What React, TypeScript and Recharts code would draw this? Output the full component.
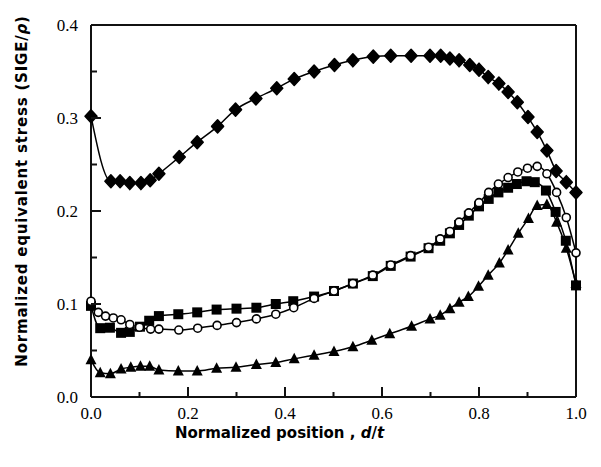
import React from 'react';
import { ComposedChart, Line, XAxis, YAxis } from 'recharts';

// Normalized position d/t and normalized equivalent stress per series
const diamondX = [0.0, 0.041, 0.06, 0.08, 0.103, 0.122, 0.14, 0.182, 0.219, 0.261, 0.298, 0.34, 0.383, 0.419, 0.46, 0.502, 0.54, 0.582, 0.618, 0.66, 0.699, 0.721, 0.74, 0.759, 0.781, 0.8, 0.819, 0.841, 0.86, 0.879, 0.901, 0.92, 0.94, 0.959, 0.98, 1.0];
const diamondY = [0.302, 0.232, 0.232, 0.23, 0.23, 0.233, 0.24, 0.258, 0.274, 0.291, 0.309, 0.321, 0.332, 0.342, 0.35, 0.357, 0.362, 0.366, 0.367, 0.367, 0.367, 0.367, 0.364, 0.362, 0.357, 0.352, 0.344, 0.337, 0.328, 0.317, 0.301, 0.285, 0.265, 0.243, 0.231, 0.22];

const circleX = [0.0, 0.015, 0.03, 0.046, 0.062, 0.08, 0.1, 0.123, 0.14, 0.181, 0.22, 0.26, 0.3, 0.341, 0.381, 0.418, 0.46, 0.501, 0.54, 0.581, 0.618, 0.659, 0.696, 0.72, 0.74, 0.759, 0.779, 0.8, 0.82, 0.84, 0.86, 0.88, 0.9, 0.92, 0.94, 0.96, 0.98, 1.0];
const circleY = [0.103, 0.091, 0.087, 0.085, 0.083, 0.078, 0.075, 0.073, 0.073, 0.072, 0.074, 0.077, 0.08, 0.084, 0.089, 0.096, 0.106, 0.114, 0.122, 0.131, 0.142, 0.152, 0.161, 0.17, 0.178, 0.188, 0.198, 0.209, 0.22, 0.229, 0.236, 0.242, 0.246, 0.248, 0.24, 0.22, 0.193, 0.155];

const squareX = [0.0, 0.019, 0.039, 0.062, 0.08, 0.101, 0.12, 0.14, 0.18, 0.219, 0.259, 0.3, 0.341, 0.381, 0.417, 0.46, 0.501, 0.54, 0.581, 0.618, 0.659, 0.696, 0.72, 0.74, 0.759, 0.779, 0.8, 0.82, 0.84, 0.86, 0.878, 0.898, 0.915, 0.938, 0.958, 0.979, 1.0];
const squareY = [0.098, 0.074, 0.0745, 0.069, 0.07, 0.0756, 0.082, 0.087, 0.089, 0.091, 0.094, 0.095, 0.096, 0.1, 0.103, 0.108, 0.114, 0.122, 0.13, 0.141, 0.151, 0.16, 0.168, 0.176, 0.185, 0.195, 0.205, 0.213, 0.22, 0.225, 0.229, 0.232, 0.231, 0.222, 0.199, 0.168, 0.12];

const triangleX = [0.0, 0.019, 0.04, 0.062, 0.082, 0.102, 0.121, 0.14, 0.18, 0.219, 0.259, 0.299, 0.341, 0.381, 0.419, 0.46, 0.501, 0.54, 0.579, 0.616, 0.661, 0.699, 0.72, 0.74, 0.759, 0.778, 0.799, 0.819, 0.842, 0.86, 0.881, 0.902, 0.92, 0.94, 0.96, 0.98, 1.0];
const triangleY = [0.04, 0.026, 0.025, 0.03, 0.032, 0.033, 0.033, 0.029, 0.028, 0.028, 0.031, 0.032, 0.035, 0.037, 0.041, 0.045, 0.049, 0.054, 0.061, 0.068, 0.076, 0.084, 0.088, 0.095, 0.102, 0.108, 0.119, 0.131, 0.144, 0.158, 0.176, 0.192, 0.206, 0.207, 0.188, 0.16, 0.122];

const xTicks = [0, 0.1, 0.2, 0.3, 0.4, 0.5, 0.6, 0.7, 0.8, 0.9, 1.0];
const yTicks = [0, 0.05, 0.1, 0.15, 0.2, 0.25, 0.3, 0.35, 0.4];

const zip = (xs: number[], ys: number[]) => xs.map((x, i) => ({ x, y: ys[i] }));
const diamondData = zip(diamondX, diamondY);
const circleData = zip(circleX, circleY);
const squareData = zip(squareX, squareY);
const triangleData = zip(triangleX, triangleY);

const SERIF = 'Liberation Serif';
const SANS = 'DejaVu Sans';
const FRAME = '#111111';

const isMajor = (v: number, step: number) => Math.abs(Math.round(v / step) * step - v) < 1e-6;

// default tickSize (6) + tickMargin (2) separate the tick anchor from the axis line
const OFF = 8;

const XTick = (props: any) => {
  const { x, y, payload } = props;
  const v = payload.value;
  const major = isMajor(v, 0.2);
  const ay = y - OFF;
  const len = major ? 10 : 5;
  return (
    <g>
      <path d={`M${x},${ay}L${x},${ay - len}`} stroke={FRAME} strokeWidth={2} fill="none" />
      {major && (
        <text x={x} y={ay + 22} textAnchor="middle" fontFamily={SERIF} fontSize={17} fill="#000">
          {v.toFixed(1)}
        </text>
      )}
    </g>
  );
};

const YTick = (props: any) => {
  const { x, y, payload } = props;
  const v = payload.value;
  const major = isMajor(v, 0.1);
  const ax = x + OFF;
  const len = major ? 10 : 6;
  return (
    <g>
      <path d={`M${ax},${y}L${ax + len},${y}`} stroke={FRAME} strokeWidth={2} fill="none" />
      {major && (
        <text x={ax - 13} y={y + 6} textAnchor="end" fontFamily={SERIF} fontSize={17} fill="#000">
          {v.toFixed(1)}
        </text>
      )}
    </g>
  );
};

const RTick = (props: any) => {
  const { x, y, payload } = props;
  const v = payload.value;
  const major = isMajor(v, 0.1);
  const ax = x - OFF;
  const len = major ? 10 : 6;
  return <path d={`M${ax},${y}L${ax - len},${y}`} stroke={FRAME} strokeWidth={2} fill="none" />;
};

const diamondDot = (p: any) => {
  const { cx, cy, index } = p;
  return <path key={`d${index}`} d={`M${cx},${cy - 6.5} L${cx + 6},${cy} L${cx},${cy + 6.5} L${cx - 6},${cy} Z`} fill="#000" stroke="#000" strokeWidth={1.5} strokeLinejoin="round" />;
};
const squareDot = (p: any) => {
  const { cx, cy, index } = p;
  return <rect key={`s${index}`} x={cx - 5} y={cy - 5} width={10} height={10} fill="#000" />;
};
const circleDot = (p: any) => {
  const { cx, cy, index } = p;
  return <circle key={`c${index}`} cx={cx} cy={cy} r={4} fill="#fff" stroke="#000" strokeWidth={1.6} />;
};
const triangleDot = (p: any) => {
  const { cx, cy, index } = p;
  return <path key={`t${index}`} d={`M${cx},${cy - 6} L${cx + 5.5},${cy + 4.5} L${cx - 5.5},${cy + 4.5} Z`} fill="#000" />;
};

const YLabel = (props: any) => {
  const vb = props.viewBox;
  const cx = vb.x + 22;
  const cy = vb.y + vb.height / 2 - 20;
  return (
    <text x={cx} y={cy} transform={`rotate(-90, ${cx}, ${cy})`} textAnchor="middle" dominantBaseline="central" fontFamily={SANS} fontWeight="bold" fontSize={15} letterSpacing={0.8} fill="#000">
      Normalized equivalent stress (SIGE/<tspan fontStyle="italic">ρ</tspan>)
    </text>
  );
};

const XLabel = (props: any) => {
  const vb = props.viewBox;
  const cx = vb.x + vb.width / 2 - 54;
  const cy = vb.y + 41;
  return (
    <text x={cx} y={cy} textAnchor="middle" fontFamily={SANS} fontWeight="bold" fontSize={15} fill="#000">
      Normalized position , <tspan fontStyle="italic">d</tspan>/<tspan fontStyle="italic">t</tspan>
    </text>
  );
};

export default function App() {
  return (
    <div style={{ position: 'absolute', left: 0, top: 0, background: '#fff' }}>
      <ComposedChart width={601} height={467} margin={{ top: 0, right: 0, bottom: 0, left: 0 }}>
        <XAxis xAxisId="top" orientation="top" type="number" dataKey="x" domain={[0, 1]} ticks={xTicks} stroke={FRAME} strokeWidth={2} tick={false} tickLine={false} height={25} />
        <XAxis type="number" dataKey="x" domain={[0, 1]} ticks={xTicks} stroke={FRAME} strokeWidth={2} tickLine={false} tick={<XTick />} height={70} label={{ content: <XLabel /> }} />
        <YAxis yAxisId="left" type="number" domain={[0, 0.4]} ticks={yTicks} stroke={FRAME} strokeWidth={2} tickLine={false} tick={<YTick />} width={91} label={{ content: <YLabel /> }} />
        <YAxis yAxisId="right" orientation="right" type="number" domain={[0, 0.4]} ticks={yTicks} stroke={FRAME} strokeWidth={2} tickLine={false} tick={<RTick />} width={25} />
        <Line yAxisId="left" data={triangleData} dataKey="y" type="monotone" stroke="#000" strokeWidth={1.5} dot={triangleDot} activeDot={false} isAnimationActive={false} />
        <Line yAxisId="left" data={squareData} dataKey="y" type="monotone" stroke="#000" strokeWidth={1.5} dot={squareDot} activeDot={false} isAnimationActive={false} />
        <Line yAxisId="left" data={circleData} dataKey="y" type="monotone" stroke="#000" strokeWidth={1.5} dot={circleDot} activeDot={false} isAnimationActive={false} />
        <Line yAxisId="left" data={diamondData} dataKey="y" type="monotone" stroke="#000" strokeWidth={1.5} dot={diamondDot} activeDot={false} isAnimationActive={false} />
      </ComposedChart>
    </div>
  );
}
